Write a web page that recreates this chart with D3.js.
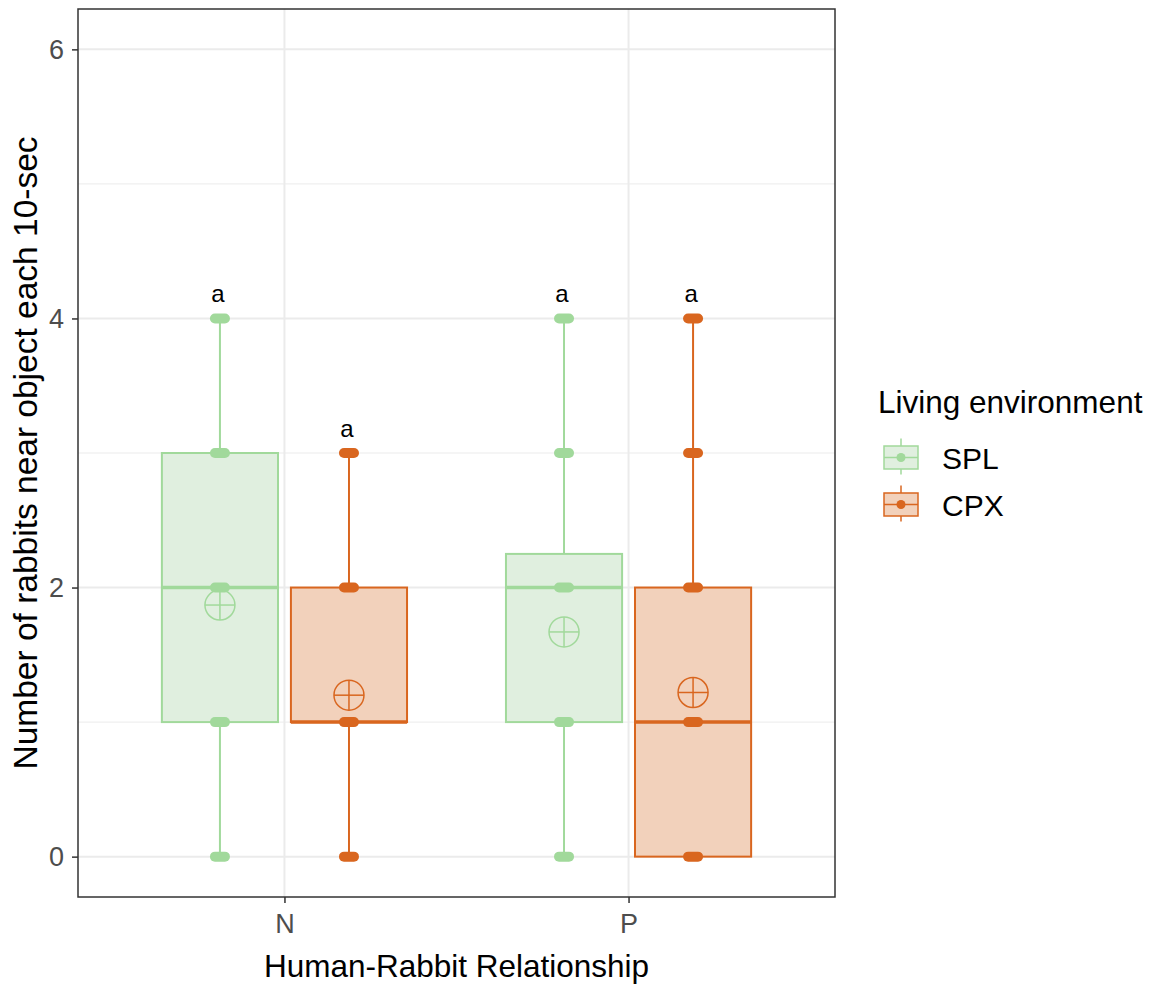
<!DOCTYPE html>
<html><head><meta charset="utf-8">
<script src="https://cdn.jsdelivr.net/npm/d3@7"></script>
<style>body{margin:0;background:#fff}</style>
</head><body>
<svg id="c" width="1159" height="985"></svg>
<script>
const categories = ["N", "P"];
const groups = ["SPL", "CPX"];
const colors = {SPL: "#a1d99b", CPX: "#d9661f"};
const fills = {SPL: "#e0efdf", CPX: "#f2d1bb"};
// box stats per category: min, q1, median, q3, max
const boxN = [{g:"SPL", min:0, q1:1, med:2, q3:3, max:4}, {g:"CPX", min:0, q1:1, med:1, q3:2, max:3}];
const boxP = [{g:"SPL", min:0, q1:1, med:2, q3:2.25, max:4}, {g:"CPX", min:0, q1:0, med:1, q3:2, max:4}];
const meansN = [1.87, 1.20];
const meansP = [1.67, 1.22];
const pointsN = [[0,1,2,3,4],[0,1,2,3]];
const pointsP = [[0,1,2,3,4],[0,1,2,3,4]];
const letters = ["a","a","a","a"];
const yTicks = [0, 2, 4, 6];
const yMinor = [1, 3, 5];

const data = [
  {cat:"N", boxes: boxN, means: meansN, points: pointsN},
  {cat:"P", boxes: boxP, means: meansP, points: pointsP}
];

const svg = d3.select("#c");
const L = 78, R = 835, T = 9, B = 897;
const FONT = "Liberation Sans, Arial, sans-serif";

const x = d3.scalePoint().domain(categories).range([L, R]).padding(0.6);
const step = x.step();
const y = d3.scaleLinear().domain([-0.3, 6.3]).range([B, T]);
const dodge = d3.scaleBand().domain(groups).range([-0.375*step, 0.375*step]);
const boxW = dodge.bandwidth() * 0.9;

// grid
const g = svg.append("g");
g.selectAll(".minor").data(yMinor).join("line")
  .attr("x1", L).attr("x2", R).attr("y1", d=>y(d)).attr("y2", d=>y(d))
  .attr("stroke", "#ebebeb").attr("stroke-width", 1);
g.selectAll(".major").data(yTicks).join("line")
  .attr("x1", L).attr("x2", R).attr("y1", d=>y(d)).attr("y2", d=>y(d))
  .attr("stroke", "#ebebeb").attr("stroke-width", 2);
g.selectAll(".vmajor").data(categories).join("line")
  .attr("x1", d=>x(d)).attr("x2", d=>x(d)).attr("y1", T).attr("y2", B)
  .attr("stroke", "#ebebeb").attr("stroke-width", 2);

// boxes
data.forEach((cd, ci) => {
  cd.boxes.forEach((b, i) => {
    const cx = x(cd.cat) + dodge(b.g) + dodge.bandwidth()/2;
    const col = colors[b.g];
    g.append("line").attr("x1", cx).attr("x2", cx).attr("y1", y(b.q3)).attr("y2", y(b.max))
      .attr("stroke", col).attr("stroke-width", 2);
    g.append("line").attr("x1", cx).attr("x2", cx).attr("y1", y(b.q1)).attr("y2", y(b.min))
      .attr("stroke", col).attr("stroke-width", 2);
    g.append("rect").attr("x", cx - boxW/2).attr("width", boxW)
      .attr("y", y(b.q3)).attr("height", y(b.q1) - y(b.q3))
      .attr("fill", fills[b.g]).attr("stroke", col).attr("stroke-width", 2);
    g.append("line").attr("x1", cx - boxW/2).attr("x2", cx + boxW/2)
      .attr("y1", y(b.med)).attr("y2", y(b.med)).attr("stroke", col).attr("stroke-width", 3.5);
    // points (overlapping jittered dots appear as pills)
    g.selectAll(null).data(cd.points[i]).join("rect")
      .attr("x", cx - 10).attr("width", 20).attr("y", d => y(d) - 5).attr("height", 10)
      .attr("rx", 5).attr("ry", 5).attr("fill", col);
    // mean marker: circle with plus
    const my = y(cd.means[i]), r = 15;
    g.append("circle").attr("cx", cx).attr("cy", my).attr("r", r)
      .attr("fill", "none").attr("stroke", col).attr("stroke-width", 1.5);
    g.append("line").attr("x1", cx - r).attr("x2", cx + r).attr("y1", my).attr("y2", my)
      .attr("stroke", col).attr("stroke-width", 1.5);
    g.append("line").attr("x1", cx).attr("x2", cx).attr("y1", my - r).attr("y2", my + r)
      .attr("stroke", col).attr("stroke-width", 1.5);
    g.append("text").attr("x", cx - 2).attr("y", y(b.max) - 16)
      .attr("text-anchor", "middle").attr("font-family", FONT).attr("font-size", 24)
      .attr("fill", "#000").text(letters[ci*2 + i]);
  });
});

// panel border
svg.append("rect").attr("x", L).attr("y", T).attr("width", R - L).attr("height", B - T)
  .attr("fill", "none").attr("stroke", "#333").attr("stroke-width", 1.5);

// axes
const yAxis = svg.append("g").attr("transform", `translate(${L},0)`)
  .call(d3.axisLeft(y).tickValues(yTicks).tickFormat(d3.format("d")).tickSize(6).tickPadding(8));
const xAxis = svg.append("g").attr("transform", `translate(0,${B})`)
  .call(d3.axisBottom(x).tickSize(6).tickPadding(11));
[yAxis, xAxis].forEach(a => {
  a.select(".domain").remove();
  a.selectAll(".tick line").attr("stroke", "#333").attr("stroke-width", 1.5);
  a.selectAll(".tick text").attr("font-family", FONT).attr("font-size", 27).attr("fill", "#4d4d4d");
});

// axis titles
svg.append("text").attr("x", (L + R)/2).attr("y", 977).attr("text-anchor", "middle")
  .attr("font-family", FONT).attr("font-size", 31.5).attr("fill", "#000")
  .text("Human-Rabbit Relationship");
svg.append("text").attr("transform", `translate(37,${(T + B)/2}) rotate(-90)`)
  .attr("text-anchor", "middle").attr("font-family", FONT).attr("font-size", 33.5).attr("fill", "#000")
  .text("Number of rabbits near object each 10-sec");

// legend
const lg = svg.append("g");
lg.append("text").attr("x", 878).attr("y", 413).attr("font-family", FONT).attr("font-size", 31.5)
  .attr("fill", "#000").text("Living environment");
groups.forEach((gr, i) => {
  const cy = 457.5 + i * 47, kx = 884, kw = 34, col = colors[gr];
  lg.append("line").attr("x1", kx + kw/2).attr("x2", kx + kw/2).attr("y1", cy - 19).attr("y2", cy + 17)
    .attr("stroke", col).attr("stroke-width", 1.5);
  lg.append("rect").attr("x", kx).attr("y", cy - 11.5).attr("width", kw).attr("height", 23)
    .attr("fill", fills[gr]).attr("stroke", col).attr("stroke-width", 1.5);
  lg.append("line").attr("x1", kx).attr("x2", kx + kw).attr("y1", cy).attr("y2", cy)
    .attr("stroke", col).attr("stroke-width", 1.5);
  lg.append("circle").attr("cx", kx + kw/2).attr("cy", cy).attr("r", 4.5).attr("fill", col);
  lg.append("text").attr("x", 942).attr("y", cy + 11.5).attr("font-family", FONT).attr("font-size", 30)
    .attr("fill", "#000").text(gr);
});
</script>
</body></html>
